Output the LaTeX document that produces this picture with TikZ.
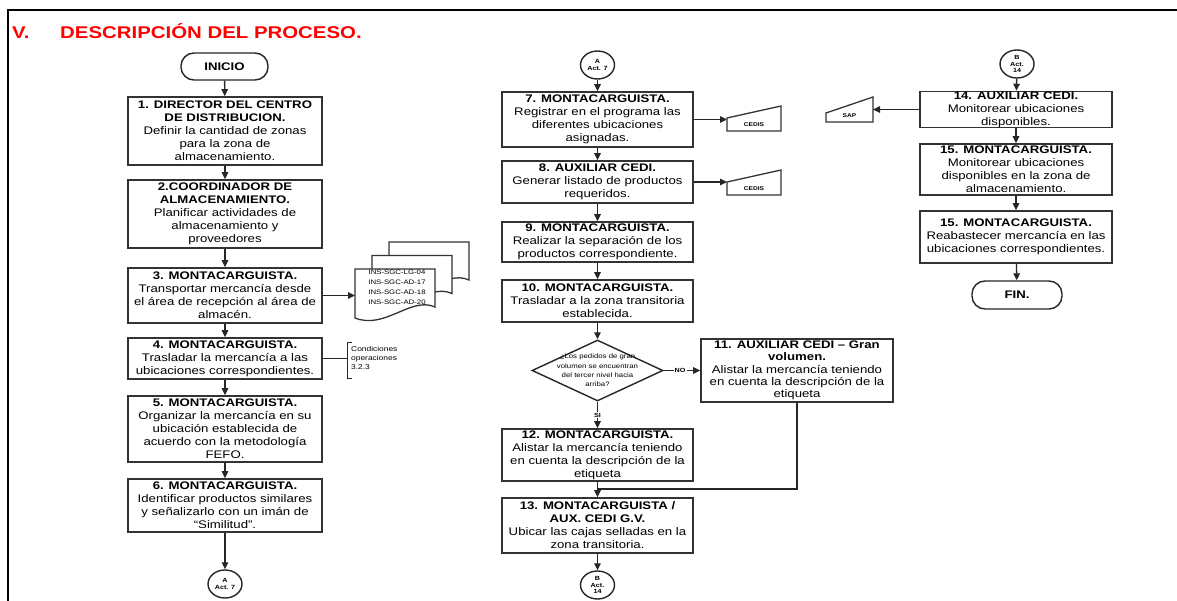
\documentclass[tikz,border=0pt]{standalone}
\usepackage{fontspec}
\setmainfont{Liberation Sans}[FakeStretch=1.2]
\usetikzlibrary{arrows.meta,shapes.geometric,calc}
\begin{document}
\begin{tikzpicture}[x=1pt,y=-1pt,
  box/.style={draw=black!80, line width=1.6pt, fill=white, align=center,
    inner sep=0pt, font=\fontsize{11}{13}\selectfont},
  term/.style={draw=black!85, line width=1.4pt, rounded corners=13pt,
    minimum height=27pt, inner sep=0pt, font=\fontsize{11}{13}\selectfont\bfseries},
  conn/.style={draw=black!85, line width=1.4pt, ellipse, minimum width=34pt,
    minimum height=28pt, inner sep=0pt, align=center,
    font=\fontsize{6}{6.5}\selectfont\bfseries},
  decision/.style={draw=black!85, line width=1.4pt, diamond, minimum width=131pt,
    minimum height=61pt, inner sep=0pt},
  small/.style={font=\fontsize{7}{9}\selectfont, align=center, inner sep=0pt},
  arr/.style={line width=1.3pt, draw=black!85, -{Triangle[length=7pt,width=6.5pt]}},
  ln/.style={line width=1.3pt, draw=black!85},
  outline/.style={draw=black!80, line width=1.3pt, fill=white},
  ghost/.style={inner sep=0pt, outer sep=0pt}
]
\useasboundingbox (0,0) rectangle (1177,601);
\fill[white] (0,0) rectangle (1177,601);

% page frame
\draw[line width=2pt] (8,601) -- (8,10) -- (1177,10);

% section heading
\node[anchor=base west, inner sep=0pt, text=red, font=\fontsize{17}{20}\selectfont\bfseries] (hnum) at (12,39) {V.};
\node[anchor=base west, inner sep=0pt, text=red, font=\fontsize{17}{20}\selectfont\bfseries] (htitle) at (60,39) {DESCRIPCIÓN DEL PROCESO.};

% ---------------- first column ----------------
\node[term, minimum width=87pt] (ini) at (224.5,66.5) {INICIO};
\node[box, minimum width=194pt, minimum height=68pt] (b1) at (225,131)
  {\textbf{1. DIRECTOR DEL CENTRO}\\\textbf{DE DISTRIBUCION.}\\Definir la cantidad de zonas\\para la zona de\\almacenamiento.};
\node[box, minimum width=194pt, minimum height=68pt] (b2) at (225,214)
  {\textbf{2.COORDINADOR DE}\\\textbf{ALMACENAMIENTO.}\\Planificar actividades de\\almacenamiento y\\proveedores};
\node[box, minimum width=194pt, minimum height=55pt] (b3) at (225,295.5)
  {\textbf{3. MONTACARGUISTA.}\\Transportar mercancía desde\\el área de recepción al área de\\almacén.};
\node[box, minimum width=194pt, minimum height=41pt] (b4) at (225,358.5)
  {\textbf{4. MONTACARGUISTA.}\\Trasladar la mercancía a las\\ubicaciones correspondientes.};
\node[box, minimum width=194pt, minimum height=66pt] (b5) at (225,429)
  {\textbf{5. MONTACARGUISTA.}\\Organizar la mercancía en su\\ubicación establecida de\\acuerdo con la metodología\\FEFO.};
\node[box, minimum width=194pt, minimum height=53pt] (b6) at (225,505.5)
  {\textbf{6. MONTACARGUISTA.}\\Identificar productos similares\\y señalizarlo con un imán de\\``Similitud''.};
\node[conn] (ca1) at (225,584) {A\\Act. 7};

\draw[arr] (ini) -- (b1);
\draw[arr] (b1) -- (b2);
\draw[arr] (b2) -- (b3);
\draw[arr] (b3) -- (b4);
\draw[arr] (b4) -- (b5);
\draw[arr] (b5) -- (b6);
\draw[arr] (b6) -- (ca1);

% stacked documents fed by step 3
\node[ghost, minimum width=80pt, minimum height=49pt] (docs) at (395,293.5) {};
\foreach \dx/\dy in {34/-27, 17/-13.5, 0/0}{
  \draw[outline] ($(docs.north west)+(\dx,\dy)$) -- ($(docs.north east)+(\dx,\dy)$)
    -- ($(docs.south east)+(\dx,\dy-11)$)
    .. controls ($(docs.south east)+(\dx-24,\dy-22)$) and ($(docs.south west)+(\dx+30,\dy+12)$) ..
    ($(docs.south west)+(\dx,\dy)$) -- cycle;
}
\node[small, font=\fontsize{6.5}{10}\selectfont] (doctxt) at ($(docs.center)+(2,-6)$)
  {INS-SGC-LG-04\\INS-SGC-AD-17\\INS-SGC-AD-18\\INS-SGC-AD-20};
\draw[arr] (b3.east) -- (docs.west |- b3.east);

% annotation of step 4
\coordinate (brk) at (347,358.5);
\draw[ln] (b4.east) -- (brk);
\draw[ln, line width=1pt] (352,342) -- (347,342) -- (347,378) -- (352,378);
\node[small, anchor=west, align=left] (cond) at (351,358) {Condiciones\\operaciones\\3.2.3};

% ---------------- second column ----------------
\node[conn] (ca2) at (597.5,65) {A\\Act. 7};
\node[box, minimum width=191pt, minimum height=55pt] (b7) at (597.5,119.5)
  {\textbf{7. MONTACARGUISTA.}\\Registrar en el programa las\\diferentes ubicaciones\\asignadas.};
\node[box, minimum width=191pt, minimum height=42pt] (b8) at (597.5,182)
  {\textbf{8. AUXILIAR CEDI.}\\Generar listado de productos\\requeridos.};
\node[box, minimum width=191pt, minimum height=40pt] (b9) at (597.5,242)
  {\textbf{9. MONTACARGUISTA.}\\Realizar la separación de los\\productos correspondiente.};
\node[box, minimum width=191pt, minimum height=42pt] (b10) at (597.5,301)
  {\textbf{10. MONTACARGUISTA.}\\Trasladar a la zona transitoria\\establecida.};
\node[decision] (q) at (597.5,370.5) {};
\node[small, font=\fontsize{6.5}{9.3}\selectfont] (qtxt) at (q.center)
  {¿Los pedidos de gran\\volumen se encuentran\\del tercer nivel hacia\\arriba?};
\node[box, minimum width=192pt, minimum height=63pt, font=\fontsize{11}{12.4}\selectfont] (b11) at (797,370.5)
  {\textbf{11. AUXILIAR CEDI – Gran}\\\textbf{volumen.}\\Alistar la mercancía teniendo\\en cuenta la descripción de la\\etiqueta};
\node[box, minimum width=191pt, minimum height=52pt] (b12) at (597.5,455)
  {\textbf{12. MONTACARGUISTA.}\\Alistar la mercancía teniendo\\en cuenta la descripción de la\\etiqueta};
\node[box, minimum width=191pt, minimum height=55pt] (b13) at (597.5,525.5)
  {\textbf{13. MONTACARGUISTA /}\\\textbf{AUX. CEDI G.V.}\\Ubicar las cajas selladas en la\\zona transitoria.};
\node[conn] (cb1) at (597.5,585) {B\\Act.\\14};

\draw[arr] (ca2) -- (b7);
\draw[arr] (b7) -- (b8);
\draw[arr] (b8) -- (b9);
\draw[arr] (b9) -- (b10);
\draw[arr] (b10) -- (q);
\draw[arr] (q) -- node[pos=0.5, fill=white, small, inner sep=1pt, font=\fontsize{6}{7}\selectfont\bfseries] {SI} (b12);
\draw[arr] (q) -- node[pos=0.45, fill=white, small, inner sep=1pt, font=\fontsize{6}{7}\selectfont\bfseries] {NO} (b11);
\draw[arr] (b12) -- (b13);
\coordinate (mj) at (597.5,489);
\draw[ln] (b11.south) -- (b11.south |- mj) -- (mj);
\draw[arr] (b13) -- (cb1);

% system records (manual input symbols)
\node[ghost, minimum width=54pt, minimum height=25pt] (cedis1) at (754,118.5) {};
\draw[outline] (cedis1.south west) -- (cedis1.south east) -- (cedis1.north east)
  -- ($(cedis1.south west)!0.52!(cedis1.north west)$) -- cycle;
\node[small, font=\fontsize{5.5}{6}\selectfont\bfseries] at ($(cedis1.center)+(0,6)$) {CEDIS};
\coordinate (c1in) at ($(cedis1.south west)!0.52!(cedis1.north west)$);
\draw[arr] (b7.east) -- (b7.east -| c1in);

\node[ghost, minimum width=54pt, minimum height=25pt] (cedis2) at (754,182.5) {};
\draw[outline] (cedis2.south west) -- (cedis2.south east) -- (cedis2.north east)
  -- ($(cedis2.south west)!0.52!(cedis2.north west)$) -- cycle;
\node[small, font=\fontsize{5.5}{6}\selectfont\bfseries] at ($(cedis2.center)+(0,6)$) {CEDIS};
\coordinate (c2in) at ($(cedis2.south west)!0.52!(cedis2.north west)$);
\draw[arr] (b8.east) -- (b8.east -| c2in);

% ---------------- third column ----------------
\node[conn] (cb2) at (1017,64) {B\\Act.\\14};
\node[box, minimum width=192pt, minimum height=35pt] (b14) at (1016,109.5)
  {\textbf{14. AUXILIAR CEDI.}\\Monitorear ubicaciones\\disponibles.};
\node[box, minimum width=192pt, minimum height=51pt] (b15) at (1016,169.5)
  {\textbf{15. MONTACARGUISTA.}\\Monitorear ubicaciones\\disponibles en la zona de\\almacenamiento.};
\node[box, minimum width=192pt, minimum height=52pt] (b16) at (1016,237)
  {\textbf{15. MONTACARGUISTA.}\\Reabastecer mercancía en las\\ubicaciones correspondientes.};
\node[term, minimum width=90pt, minimum height=28pt] (fin) at (1017,295) {FIN.};

\draw[arr] (cb2) -- (b14);
\draw[arr] (b14) -- (b15);
\draw[arr] (b15) -- (b16);
\draw[arr] (b16) -- (fin);

\node[ghost, minimum width=47pt, minimum height=25pt] (sap) at (849.5,109.5) {};
\draw[outline] (sap.south west) -- (sap.south east) -- (sap.north east)
  -- ($(sap.south west)!0.36!(sap.north west)$) -- cycle;
\node[small, font=\fontsize{5.5}{6}\selectfont\bfseries] at ($(sap.center)+(0,6)$) {SAP};
\draw[arr] (b14.west) -- (sap.east |- b14.west);

\end{tikzpicture}
\end{document}
